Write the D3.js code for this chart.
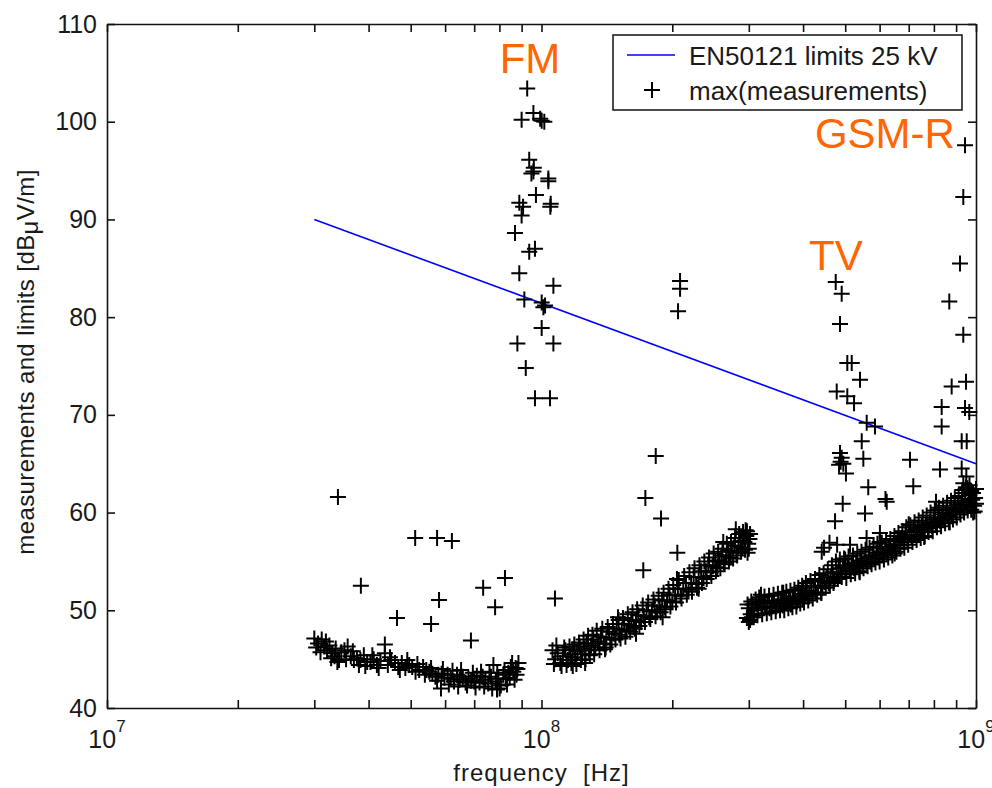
<!DOCTYPE html>
<html>
<head>
<meta charset="utf-8">
<script src="https://cdn.jsdelivr.net/npm/d3@7"></script>
<style>
  body { margin: 0; background: #fff; }
  text { font-family: "Liberation Sans", Arial, sans-serif; fill: #1a1a1a; }
  .axis path, .axis line { stroke: #111; stroke-width: 1.6; }
</style>
</head>
<body>
<div id="chart"></div>
<script>
// limit line (EN50121, 25 kV), frequency in MHz, level in dBuV/m
const limitFreq = [30, 1000];
const limitLevel = [90, 65];

// max(measurements) : [MHz, dBuV/m], read off the picture
// low band, 30 - 88 MHz
const band1 = [
  [30.0, 47.1], [30.6, 46.6], [31.2, 47.0], [31.6, 46.3], [32.1, 45.9], [32.5, 46.4],
  [33.0, 45.6], [33.4, 45.3], [33.9, 44.7], [34.6, 45.7], [35.2, 45.9], [35.8, 46.3],
  [36.4, 45.3], [37.0, 44.9], [37.6, 45.1], [38.3, 44.9], [39.0, 45.4], [39.7, 44.7],
  [40.4, 44.7], [41.1, 45.0], [41.8, 44.4], [42.6, 44.8], [43.6, 45.6], [44.3, 44.4],
  [45.1, 44.9], [46.0, 44.6], [46.8, 44.2], [47.7, 44.6], [48.6, 44.1], [49.6, 44.4],
  [50.4, 44.2], [51.3, 43.7], [52.3, 43.9], [53.4, 44.2], [54.3, 43.9], [55.2, 43.7],
  [56.1, 43.5], [57.0, 43.2], [57.9, 43.4], [58.9, 43.5], [59.8, 43.1], [60.8, 43.4],
  [61.8, 43.0], [62.9, 42.7], [63.9, 43.4], [64.8, 42.9], [65.9, 43.2], [66.9, 42.6],
  [67.9, 43.0], [68.9, 42.8], [70.0, 42.7], [71.0, 43.3], [72.0, 42.6], [73.2, 43.2],
  [74.3, 42.9], [75.4, 42.5], [76.5, 43.2], [77.5, 44.4], [78.5, 42.7], [79.6, 43.0],
  [80.6, 42.3], [81.7, 43.4], [82.8, 43.0], [83.9, 43.6], [85.0, 44.2], [86.1, 43.7],
  [87.2, 44.1], [88.0, 44.0]
];
const band1Spread = [
  [30.3, 46.2], [31.0, 45.7], [31.9, 46.8], [32.8, 45.1], [33.6, 46.1], [34.2, 44.9],
  [35.5, 45.0], [36.8, 45.8], [38.0, 44.4], [39.3, 44.3], [40.8, 45.4], [42.2, 44.1],
  [44.8, 45.2], [47.2, 43.9], [49.1, 44.9], [51.8, 44.5], [53.9, 43.4], [55.7, 44.1],
  [57.5, 42.8], [59.3, 44.0], [61.2, 42.4], [62.4, 43.8], [64.3, 42.2], [65.3, 43.9],
  [67.4, 42.3], [69.5, 43.6], [70.5, 42.1], [72.6, 43.7], [73.8, 42.2], [75.9, 43.6],
  [77.0, 42.0], [79.1, 43.6], [80.1, 42.0], [82.2, 43.9], [83.3, 42.4], [84.5, 43.1],
  [85.6, 44.6], [86.7, 42.9], [87.6, 43.4], [88.5, 44.6]
];

// FM broadcast peak
const fmPeak = [
  [92.7, 103.4], [90.0, 100.2], [95.8, 100.9], [100.1, 100.1], [101.5, 100.0], [99.3, 100.3],
  [93.7, 96.1], [94.8, 94.7], [95.8, 94.9], [96.0, 95.3], [103.7, 94.2], [103.7, 93.9],
  [97.1, 92.5], [105.0, 91.6], [104.8, 91.3], [88.9, 91.7], [90.7, 91.3], [90.0, 90.4],
  [86.9, 88.6], [96.6, 87.0], [93.7, 86.7], [88.9, 84.5], [106.5, 83.2], [91.3, 81.8],
  [100.1, 81.5], [101.9, 81.2], [101.0, 81.0], [100.1, 78.9], [88.0, 77.3], [106.5, 77.3],
  [92.0, 74.8], [96.6, 71.7], [104.6, 71.7]
];

// middle band, 106 - 300 MHz
const band2 = [
  [106, 45.9], [107.5, 45.0], [109, 45.6], [110.5, 44.6], [112, 45.3], [113.5, 45.9],
  [115, 44.9], [116.5, 45.5], [118, 46.0], [118, 44.3], [119.5, 45.2], [121, 45.8],
  [122.5, 46.3], [124, 45.5], [125.5, 46.1], [126, 44.6], [127, 46.6], [128.5, 45.9],
  [130, 46.4], [131.5, 47.0], [133, 46.2], [135, 46.8], [137, 47.3], [139, 46.6],
  [140, 46.0], [141, 47.2], [143, 47.8], [145, 47.0], [147, 47.6], [149, 48.1],
  [150, 49.3], [151, 47.5], [153, 48.0], [155, 48.6], [157, 47.9], [159, 48.5],
  [161, 49.0], [163, 48.3], [165, 48.9], [165, 47.6], [167, 49.5], [169.5, 48.8],
  [172, 49.4], [174.5, 50.0], [177, 49.3], [179.5, 49.9], [182, 50.5], [184.5, 49.8],
  [187, 50.4], [189.5, 51.0], [190, 49.3], [192, 50.3], [194.5, 51.0], [197, 51.6],
  [200, 50.9], [203, 51.6], [205, 53.2], [206, 52.2], [209, 51.5], [212, 52.2],
  [215, 52.8], [218, 52.1], [221, 52.8], [224, 53.4], [227, 52.7], [230, 53.4],
  [230, 52.2], [233, 54.0], [236, 53.3], [239, 54.0], [242, 54.6], [245, 53.9],
  [248, 54.5], [251, 55.1], [254, 54.4], [257, 55.0], [260, 55.6], [262, 57.0],
  [263, 54.9], [266, 55.5], [269, 56.1], [272, 55.4], [275, 56.0], [278, 56.6],
  [280, 58.3], [281, 55.9], [284, 56.5], [287, 57.1], [290, 56.4], [293, 57.0],
  [295, 58.2], [296, 57.6], [298, 55.9], [299, 56.8], [301, 57.3]
];
const band2Spread = [
  [106.8, 44.5], [108.2, 46.4], [111.2, 44.3], [112.8, 46.2], [114.2, 44.4], [116, 46.3],
  [117.2, 44.6], [119, 46.5], [120.3, 44.5], [122, 46.7], [123.2, 44.9], [125, 47.0],
  [126.3, 45.0], [128, 47.4], [129.2, 45.4], [131, 47.5], [132.2, 45.5], [134, 47.9],
  [136, 45.9], [138, 48.1], [140.5, 46.2], [142, 48.3], [144, 46.5], [146, 48.6],
  [148, 47.0], [150.5, 49.0], [152, 47.1], [154, 49.2], [156, 47.3], [158, 49.6],
  [160, 47.8], [162, 49.8], [164, 48.1], [166, 50.1], [168, 48.4], [171, 50.5],
  [173, 48.8], [176, 50.8], [178, 49.1], [181, 51.1], [183, 49.4], [186, 51.5],
  [188, 49.8], [191, 51.8], [193, 50.1], [196, 52.2], [198, 50.4], [201, 52.6],
  [204, 50.8], [207, 53.1], [210, 51.2], [213, 53.5], [216, 51.6], [219, 53.9],
  [222, 51.9], [225, 54.3], [228, 52.3], [231, 54.6], [234, 52.8], [237, 55.0],
  [240, 53.2], [243, 55.4], [246, 53.5], [249, 55.8], [252, 54.0], [255, 56.0],
  [258, 54.3], [261, 56.3], [264, 54.7], [267, 56.8], [270, 55.0], [273, 57.0],
  [276, 55.3], [279, 57.4], [282, 55.6], [285, 57.8], [288, 56.0], [291, 58.0],
  [294, 56.2], [297, 58.1], [300, 56.3], [302, 57.8]
];

// high band, 297 - 1000 MHz
const band3 = [
  [297, 49.2], [300, 50.2], [300, 48.8], [303, 49.6], [305, 49.3], [306, 50.6], [309, 50.0],
  [312, 50.7], [315, 50.2], [318, 50.9], [320, 51.6], [321, 50.3], [324, 50.8], [327, 50.4],
  [331, 50.9], [335, 50.2], [339, 50.7], [343, 51.0], [347, 50.4], [351, 50.8], [355, 51.1],
  [359, 50.5], [360, 51.8], [363, 51.0], [367, 50.7], [371, 51.2], [375, 50.6], [379, 51.1],
  [383, 51.4], [387, 50.9], [391, 51.3], [395, 51.7], [399, 51.1], [400, 52.3], [403, 51.6],
  [408, 52.0], [413, 51.4], [418, 51.9], [423, 52.4], [428, 51.8], [433, 52.5], [438, 53.0],
  [440, 51.8], [443, 52.3], [448, 52.9], [453, 53.4], [458, 52.8], [463, 53.4], [468, 53.9],
  [470, 52.8], [473, 53.2], [478, 53.8], [483, 54.3], [488, 53.7], [494, 54.4], [500, 54.0],
  [500, 55.2], [506, 54.6], [512, 54.1], [518, 54.8], [524, 54.3], [530, 54.9], [536, 54.5],
  [540, 53.9], [542, 55.1], [548, 54.7], [554, 55.3], [560, 54.9], [566, 55.5], [572, 55.0],
  [578, 55.6], [584, 55.3], [590, 55.9], [597, 55.4], [600, 57.0], [604, 56.0], [611, 55.7],
  [618, 56.3], [625, 55.9], [632, 56.5], [639, 56.1], [646, 56.7], [650, 55.8], [653, 56.4],
  [660, 57.1], [667, 56.7], [674, 57.4], [681, 57.0], [688, 57.7], [695, 57.3], [700, 58.8],
  [703, 58.0], [711, 57.5], [719, 58.2], [727, 57.7], [735, 58.4], [743, 58.0], [751, 58.6],
  [759, 58.1], [760, 57.5], [767, 58.8], [775, 58.4], [783, 59.0], [791, 58.6], [800, 59.3],
  [809, 58.8], [818, 59.5], [820, 60.3], [827, 59.1], [836, 59.8], [845, 59.3], [854, 60.0],
  [863, 59.6], [870, 59.0], [872, 60.3], [881, 59.9], [890, 60.5], [899, 60.1], [908, 60.8],
  [917, 60.3], [926, 61.0], [930, 62.0], [935, 60.5], [944, 61.2], [953, 60.7], [955, 62.5],
  [962, 61.4], [965, 61.8], [971, 60.9], [975, 62.2], [980, 61.3], [985, 60.0], [990, 60.7],
  [995, 61.5], [1000, 60.9]
];
const band3Spread = [
  [298, 50.6], [302, 49.0], [304, 50.9], [308, 49.3], [311, 51.1], [314, 49.5], [317, 51.3],
  [322, 49.6], [326, 51.4], [330, 49.7], [334, 51.5], [338, 49.8], [342, 51.6], [346, 49.9],
  [350, 51.7], [354, 50.0], [358, 51.8], [362, 50.0], [366, 51.9], [370, 50.2], [374, 52.0],
  [378, 50.3], [382, 52.1], [386, 50.4], [390, 52.3], [394, 50.7], [398, 52.5], [402, 50.8],
  [406, 52.8], [411, 51.0], [416, 53.0], [421, 51.2], [426, 53.2], [431, 51.6], [436, 53.6],
  [441, 51.8], [446, 53.8], [451, 52.3], [456, 54.2], [461, 52.5], [466, 54.6], [471, 53.0],
  [476, 55.0], [481, 53.2], [486, 55.2], [491, 53.4], [497, 55.3], [503, 53.3], [509, 55.5],
  [515, 53.7], [521, 55.6], [527, 53.8], [533, 55.8], [539, 54.0], [545, 56.0], [551, 54.3],
  [557, 56.2], [563, 54.5], [569, 56.4], [575, 54.7], [581, 56.5], [587, 54.9], [593, 56.8],
  [600, 55.0], [607, 56.9], [614, 55.2], [621, 57.1], [628, 55.4], [635, 57.3], [642, 55.6],
  [649, 57.6], [656, 56.0], [663, 57.9], [670, 56.3], [677, 58.1], [684, 56.4], [691, 58.5],
  [698, 56.7], [706, 58.7], [714, 57.0], [722, 59.0], [730, 57.2], [738, 59.2], [746, 57.4],
  [754, 59.5], [762, 57.6], [770, 59.7], [778, 58.0], [786, 60.0], [795, 58.1], [804, 60.2],
  [813, 58.5], [822, 60.5], [831, 58.6], [840, 60.7], [849, 58.9], [858, 61.0], [867, 59.0],
  [876, 61.2], [885, 59.3], [894, 61.5], [903, 59.5], [912, 61.7], [921, 59.8], [930, 62.3],
  [939, 60.0], [948, 62.6], [957, 60.2], [966, 62.8], [975, 60.3], [984, 62.0], [993, 60.1],
  [1000, 62.4]
];

// TV broadcast peak
const tvPeak = [
  [475.5, 83.6], [490.8, 82.4], [486.4, 79.3], [505.6, 75.3], [517.6, 75.3], [540.8, 73.6],
  [478, 72.4], [505.6, 71.9], [524, 71.2], [560.3, 69.2], [585.5, 68.8], [545.8, 67.3],
  [486.4, 66.1], [490.8, 65.6], [495, 65.0], [488, 65.2], [484, 64.9], [550.4, 65.5],
  [704.8, 65.4], [826.2, 64.4], [565, 62.6], [717.2, 62.7], [493.5, 60.9], [623, 61.1],
  [619, 61.4], [555.4, 59.9], [473.8, 59.1], [502, 64.0], [479, 56.7], [441.5, 56.0],
  [447, 56.4], [460, 56.9], [513, 56.7], [560, 57.4], [601, 57.9], [809, 61.1]
];

// GSM-R peak
const gsmrPeak = [
  [943.4, 97.6], [934.9, 92.3], [918.8, 85.5], [868, 81.6], [934.9, 78.2], [879, 72.9],
  [948.5, 73.4], [833.7, 70.8], [943.4, 70.7], [965, 70.3], [833.7, 68.8], [927, 67.3],
  [952, 67.3], [927, 64.5], [935, 63.0], [950, 63.7]
];

// isolated points
const strayPoints = [
  [34.0, 61.6], [38.4, 52.5], [46.5, 49.2], [43.6, 46.5], [51.2, 57.4], [57.5, 57.4],
  [62.2, 57.1], [58.1, 51.05], [55.7, 48.6], [73.4, 52.3], [82.4, 53.3], [78.2, 50.3],
  [68.8, 46.9], [58.7, 42.0], [79.0, 41.9], [107.4, 51.2], [208.4, 83.7], [208.4, 82.9],
  [206.2, 80.6], [183.2, 65.8], [173.4, 61.5], [188.4, 59.4], [205.4, 55.9], [171.5, 54.1]
];

const xMajorTicks = [1e7, 1e8, 1e9];
const xTickExponents = ["7", "8", "9"];
const yTicks = [40, 50, 60, 70, 80, 90, 100, 110];

const labelNames = ["FM", "TV", "GSM-R"];
const labelFreq = [94.1, 476, 617];
const labelLevel = [105.0, 84.8, 97.3];

const legendNames = ["EN50121 limits 25 kV", "max(measurements)"];

// set the dimensions and margins of the graph
const margin = { top: 24, right: 16, bottom: 80, left: 107 },
  width = 992 - margin.left - margin.right,
  height = 788 - margin.top - margin.bottom;

const svg = d3
  .select("#chart")
  .append("svg")
  .attr("width", width + margin.left + margin.right)
  .attr("height", height + margin.top + margin.bottom)
  .append("g")
  .attr("transform", `translate(${margin.left},${margin.top})`);

const x = d3.scaleLog().domain([1e7, 1e9]).range([0, width]);
const y = d3.scaleLinear().domain([40, 110]).range([height, 0]);

// axes, ticks pointing inwards on all four sides
svg.append("g")
  .attr("class", "axis")
  .attr("transform", `translate(0,${height})`)
  .call(d3.axisBottom(x).tickValues(x.ticks()).tickSize(-8).tickSizeOuter(0).tickFormat(""));
svg.append("g")
  .attr("class", "axis")
  .call(d3.axisTop(x).tickValues(x.ticks()).tickSize(-8).tickSizeOuter(0).tickFormat(""));
svg.append("g")
  .attr("class", "axis")
  .call(d3.axisLeft(y).tickValues(yTicks).tickSize(-8).tickSizeOuter(0).tickPadding(10))
  .selectAll("text")
  .style("font-size", "25px");
svg.append("g")
  .attr("class", "axis")
  .attr("transform", `translate(${width},0)`)
  .call(d3.axisRight(y).tickValues(yTicks).tickSize(-8).tickSizeOuter(0).tickFormat(""));

// x tick labels as powers of ten
svg.selectAll(".xlab")
  .data(xMajorTicks)
  .join("text")
  .attr("class", "xlab")
  .attr("x", (d) => x(d))
  .attr("y", height + 40)
  .attr("text-anchor", "middle")
  .style("font-size", "25px")
  .each(function (d, i) {
    const t = d3.select(this);
    t.append("tspan").text("10");
    t.append("tspan").attr("dy", -16).style("font-size", "17px").text(xTickExponents[i]);
  });

// axis titles
svg.append("text")
  .attr("x", width / 2)
  .attr("y", height + 73)
  .attr("text-anchor", "middle")
  .style("font-size", "24px")
  .style("letter-spacing", "1px")
  .style("white-space", "pre")
  .text("frequency  [Hz]");

const yTitle = svg.append("text")
  .attr("transform", "rotate(-90)")
  .attr("x", -height / 2 + 4)
  .attr("y", -73)
  .attr("text-anchor", "middle")
  .style("font-size", "24px")
  .style("letter-spacing", "0.4px");
yTitle.append("tspan").text("measurements and limits [dB");
yTitle.append("tspan").attr("dy", 4).text("\u03bc");
yTitle.append("tspan").attr("dy", -4).text("V/m]");

// limit line
const limitData = limitFreq.map((f, i) => [f, limitLevel[i]]);
const line = d3.line()
  .x((d) => x(d[0] * 1e6))
  .y((d) => y(d[1]));
svg.append("path")
  .attr("d", line(limitData))
  .style("fill", "none")
  .style("stroke", "#0000ff")
  .style("stroke-width", 1.6);

// measurement markers
const measurements = [
  ...band1, ...band1Spread, ...fmPeak, ...band2, ...band2Spread,
  ...band3, ...band3Spread, ...tvPeak, ...gsmrPeak, ...strayPoints
];
const plus = "M-8,0H8M0,-8V8";
svg.append("g")
  .selectAll("path")
  .data(measurements)
  .join("path")
  .attr("d", plus)
  .attr("transform", (d) => `translate(${x(d[0] * 1e6)},${y(d[1])})`)
  .style("fill", "none")
  .style("stroke", "#000")
  .style("stroke-width", 2);

// orange annotations
svg.selectAll(".note")
  .data(labelNames)
  .join("text")
  .attr("class", "note")
  .attr("x", (d, i) => x(labelFreq[i] * 1e6))
  .attr("y", (d, i) => y(labelLevel[i]))
  .attr("text-anchor", "middle")
  .style("font-size", "42px")
  .style("fill", "#ff6600")
  .text((d) => d);

// legend
const legend = svg.append("g").attr("transform", "translate(506,11)");
legend.append("rect")
  .attr("width", 349)
  .attr("height", 75)
  .style("fill", "#fff")
  .style("stroke", "#111")
  .style("stroke-width", 1.5);
legend.append("line")
  .attr("x1", 14).attr("x2", 62)
  .attr("y1", 20).attr("y2", 20)
  .style("stroke", "#0000ff")
  .style("stroke-width", 1.6);
legend.append("path")
  .attr("d", plus)
  .attr("transform", "translate(39,55)")
  .style("stroke", "#000")
  .style("stroke-width", 2);
legend.selectAll(".legtext")
  .data(legendNames)
  .join("text")
  .attr("class", "legtext")
  .attr("x", 76)
  .attr("y", (d, i) => 30 + i * 35)
  .style("font-size", "26px")
  .text((d) => d);
</script>
</body>
</html>
